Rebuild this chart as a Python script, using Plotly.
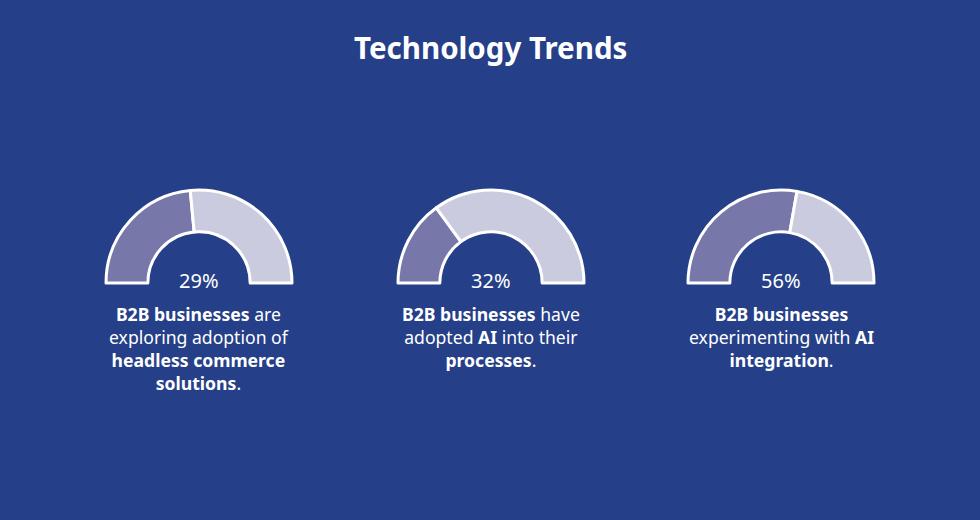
import plotly.graph_objects as go

W, H = 980, 520

# ---- data ----
title_text = "Technology Trends"
pct_labels = ["29%", "32%", "56%"]
# share of the half-ring drawn in the darker colour
gauge_fill = [47, 30, 55.5]
desc_texts = [
    "<b>B2B businesses</b> are<br>exploring adoption of<br><b>headless commerce</b><br><b>solutions</b>.",
    "<b>B2B businesses</b> have<br>adopted <b>AI</b> into their<br><b>processes</b>.",
    "<b>B2B businesses</b><br>experimenting with <b>AI</b><br><b>integration</b>.",
]

# ---- style ----
BG = "#253f88"
DARK = "#7877a9"
LIGHT = "#cbcbe0"
FONT = "Noto Sans"
centers_x = [199, 491, 781]
center_y = 283
R = 93

fig = go.Figure()
for cx, fill in zip(centers_x, gauge_fill):
    fig.add_trace(go.Pie(
        values=[100, fill, 100 - fill],
        marker=dict(colors=["rgba(0,0,0,0)", DARK, LIGHT],
                    line=dict(color=["rgba(0,0,0,0)", "white", "white"], width=3)),
        hole=0.55,
        rotation=90,
        direction="clockwise",
        sort=False,
        textinfo="none",
        hoverinfo="skip",
        showlegend=False,
        domain=dict(x=[(cx - R) / W, (cx + R) / W],
                    y=[1 - (center_y + R) / H, 1 - (center_y - R) / H]),
    ))

annotations = [dict(text=f"<b>{title_text}</b>", x=490 / W, y=1 - 47 / H,
                    xref="paper", yref="paper", showarrow=False,
                    font=dict(family=FONT, size=29.5, color="white"),
                    xanchor="center", yanchor="middle")]
for cx, lab, desc in zip(centers_x, pct_labels, desc_texts):
    annotations.append(dict(text=lab, x=cx / W, y=1 - 280 / H, xref="paper", yref="paper",
                            showarrow=False, xanchor="center", yanchor="middle",
                            font=dict(family=FONT, size=20, color="white")))
    annotations.append(dict(text=desc, x=cx / W, y=1 - 299.5 / H, xref="paper", yref="paper",
                            showarrow=False, xanchor="center", yanchor="top", align="center",
                            font=dict(family=FONT, size=17.6, color="white")))

fig.update_layout(
    width=W, height=H,
    margin=dict(l=0, r=0, t=0, b=0),
    paper_bgcolor=BG, plot_bgcolor=BG,
    annotations=annotations,
)
fig.write_html(
    "out.html",
    config={"displayModeBar": False},
    post_script="document.body.style.margin='0';document.body.style.background='" + BG + "';",
)
